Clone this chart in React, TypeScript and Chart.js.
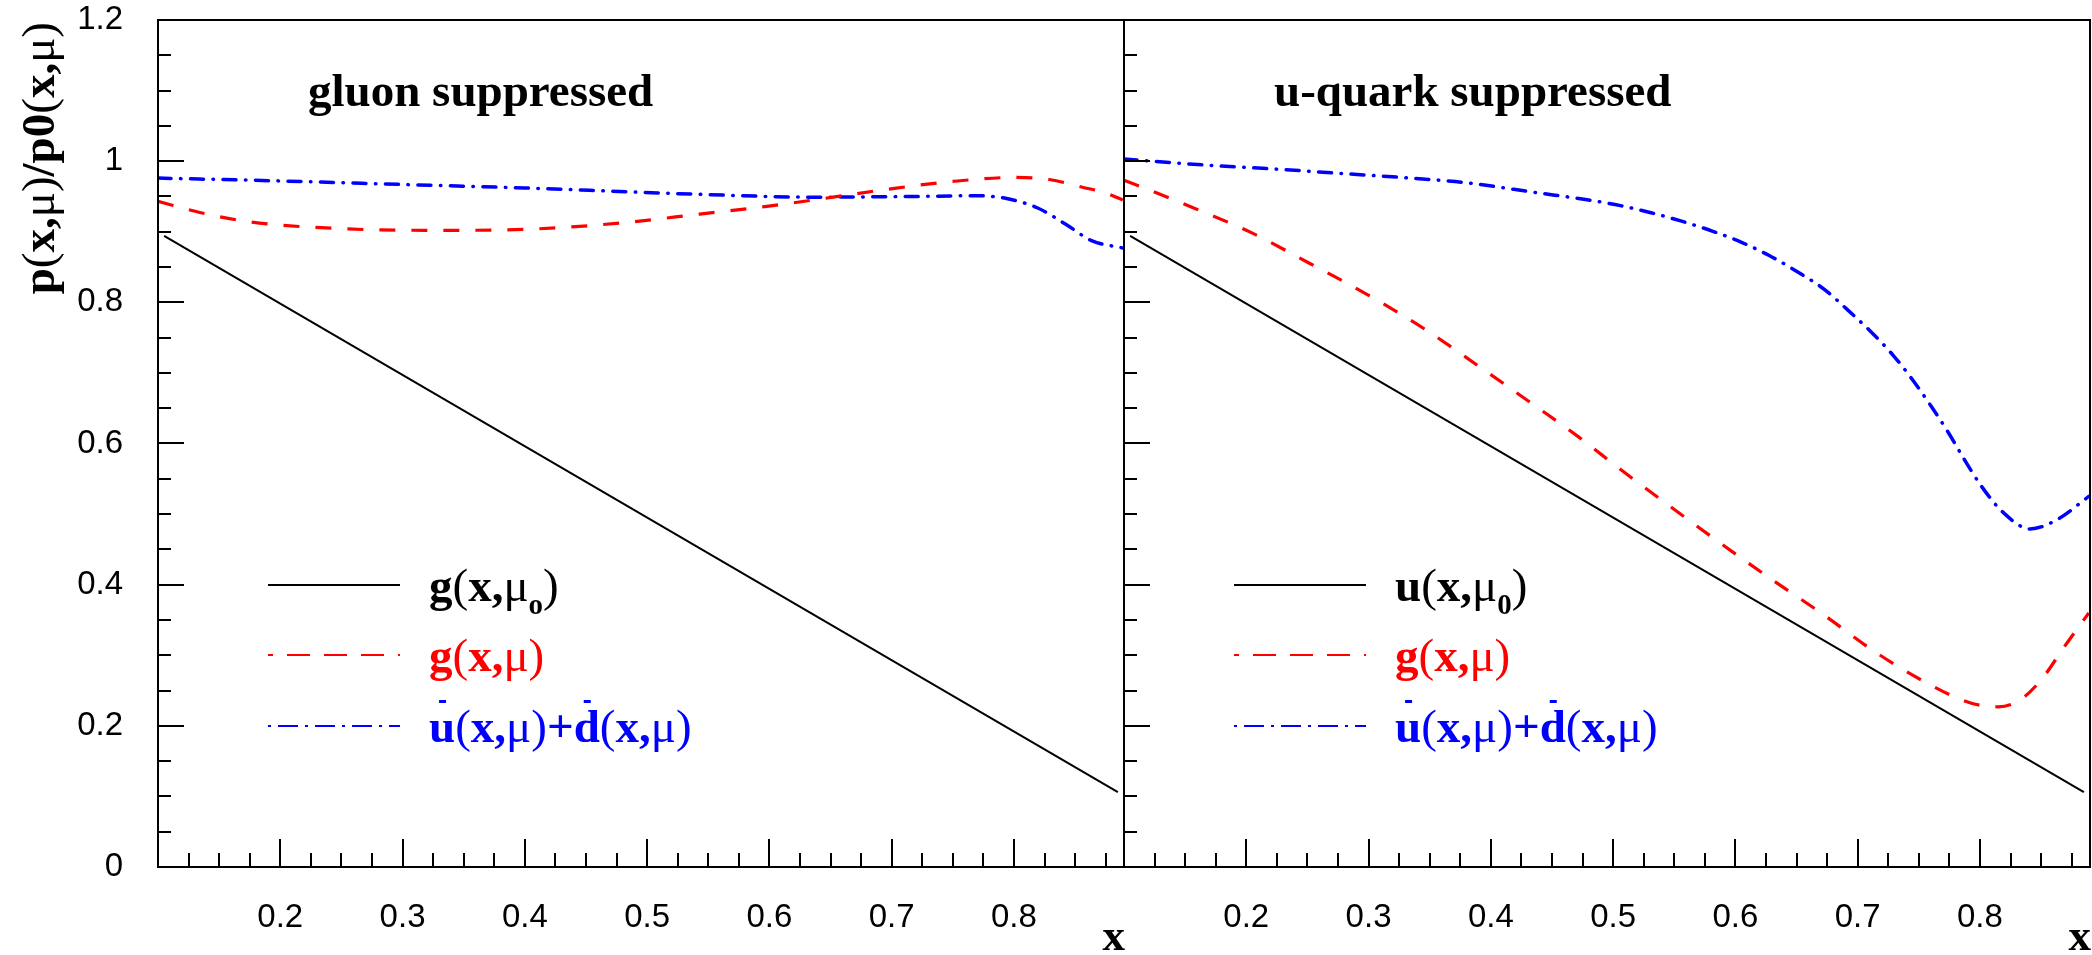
import React, { useEffect, useRef } from 'react';
import { Chart, registerables } from 'chart.js';

Chart.register(...registerables);

// ---------------- data ----------------
const X_MIN = 0.1;
const X_MAX = 0.89;
const Y_MIN = 0;
const Y_MAX = 1.2;

const xTickValues = [0.2, 0.3, 0.4, 0.5, 0.6, 0.7, 0.8];
const yTickValues = [0, 0.2, 0.4, 0.6, 0.8, 1.0, 1.2];
const legendRowValues = [0.4, 0.3, 0.2];

// gluon-suppressed panel
const gluonRefX = [0.105, 0.885];
const gluonRefY = [0.894, 0.106];

const gluonGX = [0.1, 0.135, 0.175, 0.255, 0.336, 0.409, 0.482, 0.543, 0.598, 0.652, 0.696, 0.748, 0.802, 0.829, 0.856, 0.873, 0.889];
const gluonGY = [0.943, 0.927, 0.914, 0.904, 0.902, 0.904, 0.913, 0.925, 0.936, 0.949, 0.96, 0.971, 0.977, 0.974, 0.963, 0.956, 0.945];

const gluonSeaX = [0.1, 0.2, 0.3, 0.4, 0.543, 0.639, 0.717, 0.77, 0.794, 0.819, 0.842, 0.864, 0.889];
const gluonSeaY = [0.976, 0.972, 0.967, 0.962, 0.953, 0.949, 0.95, 0.951, 0.947, 0.934, 0.911, 0.887, 0.877];

// u-quark-suppressed panel
const quarkRefX = [0.105, 0.885];
const quarkRefY = [0.894, 0.106];

const quarkGX = [0.1, 0.121, 0.158, 0.205, 0.252, 0.299, 0.346, 0.393, 0.439, 0.472, 0.507, 0.545, 0.586, 0.63, 0.67, 0.714, 0.752, 0.793, 0.815, 0.833, 0.85, 0.869, 0.889];
const quarkGY = [0.973, 0.959, 0.933, 0.898, 0.855, 0.811, 0.762, 0.706, 0.65, 0.609, 0.562, 0.513, 0.461, 0.407, 0.36, 0.305, 0.265, 0.232, 0.227, 0.237, 0.265, 0.312, 0.36];

const quarkSeaX = [0.1, 0.171, 0.222, 0.274, 0.326, 0.377, 0.439, 0.48, 0.506, 0.531, 0.556, 0.581, 0.605, 0.628, 0.651, 0.673, 0.692, 0.711, 0.729, 0.745, 0.76, 0.774, 0.787, 0.801, 0.818, 0.841, 0.863, 0.889];
const quarkSeaY = [1.003, 0.994, 0.989, 0.983, 0.977, 0.97, 0.955, 0.945, 0.937, 0.927, 0.915, 0.901, 0.885, 0.866, 0.843, 0.818, 0.789, 0.758, 0.725, 0.69, 0.653, 0.616, 0.578, 0.54, 0.504, 0.479, 0.492, 0.525];

// ---------------- styling ----------------
const SERIF = '"Liberation Serif", "Times New Roman", serif';
const SANS = '"Liberation Sans", Arial, sans-serif';
const RED = '#ff0000';
const BLUE = '#0000ff';
const BLACK = '#000000';

type Seg = { t: string; bold?: boolean; size?: number; dy?: number; bar?: boolean };

const PLOT_TOP = 20;
const X_AXIS_H = 88;
const Y_AXIS_W = 158;
const CANVAS_H = 955;
const LEGEND_FONT = 47;
const TITLE_FONT = 47;

interface PanelSpec {
  id: string;
  title: string;
  showYLabels: boolean;
  refX: number[];
  refY: number[];
  gX: number[];
  gY: number[];
  seaX: number[];
  seaY: number[];
  legend: { color: string; style: 'solid' | 'dash' | 'dashdot'; segs: Seg[] }[];
}

const mu = '\u03BC';

const panels: PanelSpec[] = [
  {
    id: 'gluon',
    title: 'gluon suppressed',
    showYLabels: true,
    refX: gluonRefX,
    refY: gluonRefY,
    gX: gluonGX,
    gY: gluonGY,
    seaX: gluonSeaX,
    seaY: gluonSeaY,
    legend: [
      {
        color: BLACK,
        style: 'solid',
        segs: [
          { t: 'g', bold: true }, { t: '(' }, { t: 'x,', bold: true }, { t: mu },
          { t: 'o', bold: true, size: 29, dy: 13 }, { t: ')' },
        ],
      },
      {
        color: RED,
        style: 'dash',
        segs: [{ t: 'g', bold: true }, { t: '(' }, { t: 'x,', bold: true }, { t: mu }, { t: ')' }],
      },
      {
        color: BLUE,
        style: 'dashdot',
        segs: [
          { t: 'u', bold: true, bar: true }, { t: '(' }, { t: 'x,', bold: true }, { t: mu }, { t: ')' },
          { t: '+', bold: true }, { t: 'd', bold: true, bar: true }, { t: '(' }, { t: 'x,', bold: true },
          { t: mu }, { t: ')' },
        ],
      },
    ],
  },
  {
    id: 'quark',
    title: 'u-quark suppressed',
    showYLabels: false,
    refX: quarkRefX,
    refY: quarkRefY,
    gX: quarkGX,
    gY: quarkGY,
    seaX: quarkSeaX,
    seaY: quarkSeaY,
    legend: [
      {
        color: BLACK,
        style: 'solid',
        segs: [
          { t: 'u', bold: true }, { t: '(' }, { t: 'x,', bold: true }, { t: mu },
          { t: '0', bold: true, size: 29, dy: 13 }, { t: ')' },
        ],
      },
      {
        color: RED,
        style: 'dash',
        segs: [{ t: 'g', bold: true }, { t: '(' }, { t: 'x,', bold: true }, { t: mu }, { t: ')' }],
      },
      {
        color: BLUE,
        style: 'dashdot',
        segs: [
          { t: 'u', bold: true, bar: true }, { t: '(' }, { t: 'x,', bold: true }, { t: mu }, { t: ')' },
          { t: '+', bold: true }, { t: 'd', bold: true, bar: true }, { t: '(' }, { t: 'x,', bold: true },
          { t: mu }, { t: ')' },
        ],
      },
    ],
  },
];

function toXY(xs: number[], ys: number[]) {
  return xs.map((x, i) => ({ x, y: ys[i] }));
}

function segFont(s: Seg, base: number) {
  return `${s.bold ? 'bold ' : ''}${s.size ?? base}px ${SERIF}`;
}

function measureRich(ctx: CanvasRenderingContext2D, segs: Seg[], base: number) {
  let w = 0;
  for (const s of segs) {
    ctx.font = segFont(s, base);
    w += ctx.measureText(s.t).width;
  }
  return w;
}

function drawRich(ctx: CanvasRenderingContext2D, segs: Seg[], x: number, y: number, color: string, base: number) {
  let cx = x;
  ctx.fillStyle = color;
  ctx.textAlign = 'left';
  ctx.textBaseline = 'alphabetic';
  for (const s of segs) {
    ctx.font = segFont(s, base);
    ctx.fillText(s.t, cx, y + (s.dy ?? 0));
    const w = ctx.measureText(s.t).width;
    if (s.bar) {
      ctx.fillRect(cx + w / 2 - 3, y - 42, 7, 3);
    }
    cx += w;
  }
}

function decorPlugin(spec: PanelSpec) {
  return {
    id: 'decor_' + spec.id,
    afterDraw(chart: any) {
      const { ctx, chartArea: a, scales } = chart;
      const xs = scales.x;
      const ys = scales.y;
      ctx.save();
      ctx.strokeStyle = BLACK;
      ctx.lineWidth = 2;
      ctx.setLineDash([]);
      ctx.strokeRect(a.left, a.top, a.right - a.left, a.bottom - a.top);

      // y ticks (inside, major every 0.2, minor every 0.05)
      ctx.beginPath();
      for (let i = 0; i <= 24; i++) {
        const v = i * 0.05;
        const major = i % 4 === 0;
        const py = Math.round(ys.getPixelForValue(v));
        ctx.moveTo(a.left, py);
        ctx.lineTo(a.left + (major ? 26 : 13), py);
      }
      // x ticks (inside, major every 0.1, minor every 0.025)
      for (let i = 1; i <= 40; i++) {
        const v = X_MIN + i * 0.025;
        if (v > X_MAX - 1e-9) break;
        const major = i % 4 === 0;
        const px = Math.round(xs.getPixelForValue(v));
        ctx.moveTo(px, a.bottom);
        ctx.lineTo(px, a.bottom - (major ? 28 : 14));
      }
      ctx.stroke();

      // panel title
      ctx.fillStyle = BLACK;
      ctx.font = `bold ${TITLE_FONT}px ${SERIF}`;
      ctx.textAlign = 'left';
      ctx.textBaseline = 'alphabetic';
      ctx.fillText(spec.title, a.left + 150, 106);

      // x axis title
      ctx.font = `bold 45px ${SERIF}`;
      ctx.textAlign = 'right';
      ctx.fillText('x', a.right + 1, 950);

      // legend
      spec.legend.forEach((entry, i) => {
        const ly = Math.round(ys.getPixelForValue(legendRowValues[i]));
        ctx.save();
        ctx.strokeStyle = entry.color;
        ctx.lineWidth = 2;
        if (entry.style === 'dash') {
          ctx.setLineDash([23, 14]);
          ctx.lineDashOffset = 18;
        } else if (entry.style === 'dashdot') {
          ctx.setLineDash([3, 7, 20, 7]);
          ctx.lineDashOffset = 0;
        } else {
          ctx.setLineDash([]);
        }
        ctx.beginPath();
        ctx.moveTo(a.left + 110, ly);
        ctx.lineTo(a.left + 242, ly);
        ctx.stroke();
        ctx.restore();
        drawRich(ctx, entry.segs, a.left + 271, ly + 16, entry.color, LEGEND_FONT);
      });

      // y axis title (left panel only)
      if (spec.showYLabels) {
        const segs: Seg[] = [
          { t: 'p', bold: true }, { t: '(' }, { t: 'x,', bold: true }, { t: mu }, { t: ')' },
          { t: '/p0', bold: true }, { t: '(' }, { t: 'x,', bold: true }, { t: mu }, { t: ')' },
        ];
        const w = measureRich(ctx, segs, 47);
        ctx.save();
        ctx.translate(54, 22 + w);
        ctx.rotate(-Math.PI / 2);
        drawRich(ctx, segs, 0, 0, BLACK, 47);
        ctx.restore();
      }
      ctx.restore();
    },
  };
}

function makeConfig(spec: PanelSpec, rightPad: number): any {
  return {
    type: 'line',
    data: {
      datasets: [
        {
          label: 'reference',
          data: toXY(spec.refX, spec.refY),
          borderColor: BLACK,
          borderWidth: 2,
          pointRadius: 0,
          tension: 0,
          fill: false,
        },
        {
          label: 'g(x,mu)',
          data: toXY(spec.gX, spec.gY),
          borderColor: RED,
          borderWidth: 3.2,
          borderDash: [16, 16],
          borderCapStyle: 'butt',
          pointRadius: 0,
          cubicInterpolationMode: 'monotone',
          fill: false,
        },
        {
          label: 'ubar+dbar',
          data: toXY(spec.seaX, spec.seaY),
          borderColor: BLUE,
          borderWidth: 3.5,
          borderDash: [13, 9.5, 0.5, 9.5],
          borderCapStyle: 'round',
          pointRadius: 0,
          cubicInterpolationMode: 'monotone',
          fill: false,
        },
      ],
    },
    options: {
      responsive: false,
      animation: false,
      devicePixelRatio: 1,
      layout: { padding: { top: PLOT_TOP, right: rightPad, left: 0, bottom: 0 } },
      plugins: { legend: { display: false }, tooltip: { enabled: false }, title: { display: false } },
      scales: {
        x: {
          type: 'linear',
          min: X_MIN,
          max: X_MAX,
          grid: { display: false, drawTicks: false },
          border: { display: false },
          ticks: {
            autoSkip: false,
            maxRotation: 0,
            padding: 31,
            color: BLACK,
            font: { family: SANS, size: 33 },
            callback: (v: any) => `${+Number(v).toFixed(2)}`,
          },
          afterBuildTicks: (s: any) => {
            s.ticks = xTickValues.map((value) => ({ value }));
          },
          afterFit: (s: any) => {
            s.height = X_AXIS_H;
            s.paddingLeft = 0;
            s.paddingRight = 0;
          },
        },
        y: {
          type: 'linear',
          min: Y_MIN,
          max: Y_MAX,
          grid: { display: false, drawTicks: false },
          border: { display: false },
          ticks: {
            display: spec.showYLabels,
            padding: 35,
            color: BLACK,
            font: { family: SANS, size: 33 },
            callback: (v: any) => `${+Number(v).toFixed(2)}`,
          },
          afterBuildTicks: (s: any) => {
            s.ticks = yTickValues.map((value) => ({ value }));
          },
          afterFit: (s: any) => {
            s.width = Y_AXIS_W;
            s.paddingTop = 0;
            s.paddingBottom = 0;
          },
        },
      },
    },
    plugins: [decorPlugin(spec)],
  };
}

function Panel({ spec, left, width, rightPad }: { spec: PanelSpec; left: number; width: number; rightPad: number }) {
  const ref = useRef<HTMLCanvasElement | null>(null);
  useEffect(() => {
    if (!ref.current) return;
    const chart = new Chart(ref.current, makeConfig(spec, rightPad));
    return () => chart.destroy();
  }, [spec, rightPad]);
  return (
    <canvas
      ref={ref}
      width={width}
      height={CANVAS_H}
      style={{ position: 'absolute', left, top: 0, width, height: CANVAS_H }}
    />
  );
}

export default function App() {
  return (
    <div
      style={{
        position: 'fixed',
        left: 0,
        top: 0,
        width: 2092,
        height: 955,
        background: '#ffffff',
        overflow: 'hidden',
      }}
    >
      <Panel spec={panels[0]} left={0} width={1140} rightPad={16} />
      <Panel spec={panels[1]} left={966} width={1126} rightPad={2} />
    </div>
  );
}
